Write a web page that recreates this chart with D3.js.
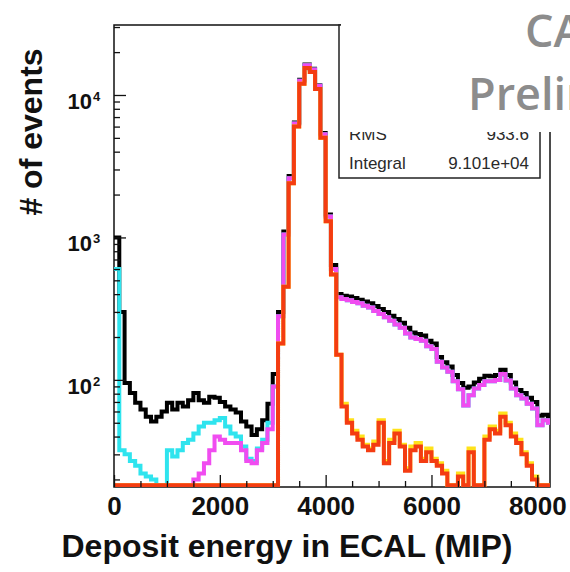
<!DOCTYPE html>
<meta charset="utf-8">
<style>
body { margin: 0; background: #fff; }
svg { display: block; }
text { font-family: "Liberation Sans", Arial, Helvetica, sans-serif; }
.lbl { font-weight: bold; fill: #111; }
.stat { font-size: 17px; fill: #2a2a2a; }
.calice { font-family: "Open Sans", sans-serif; font-weight: 600; font-size: 45px; fill: #8c8c8c; }
</style>
<svg width="570" height="572"></svg>
<script src="https://cdn.jsdelivr.net/npm/d3@7"></script>
<script>
// bin width 100 MIP, bin i covers [i*100, (i+1)*100)
var binWidth = 100

var black = [1000,300,95,81,69,62,55,51,55,60,69,62,69,65,72,81,72,69,76,75,
  70,65,62,59,51,47,41,45,52,68,110,300,1100,2700,6400,12800,16400,15300,11700,5400,
  1450,640,400,390,385,375,365,355,345,330,315,300,282,268,252,232,215,210,205,188,
  180,145,133,124,108,95,88,90,96,102,107,106,108,118,108,96,85,81,75,70,
  56,57,55]

var cyan = [600,32,30,27,25,22,21,20,15,15,32,29,32,36,38,42,47,50,50,52,
  54,47,42,40,34,28,27,33,38,50,90,280,1050,2600,6300,12600,16200,15100,11600,5300,
  1400,600,380,370,362,352,345,332,322,305,290,275,260,245,232,212,198,194,188,172,
  165,134,122,114,98,86,66,78,87,92,98,98,100,110,99,87,78,74,68,63,
  48,52,50]

var magenta = [0,0,0,0,0,0,0,0,0,0,0,0,0,0,18,20,22,26,32,40,
  38,36,36,36,32,27,26,32,36,45,90,280,1050,2600,6300,12600,16200,15100,11600,5300,
  1400,600,380,370,362,352,345,332,322,305,290,275,260,245,232,212,198,194,188,172,
  165,134,122,114,98,86,66,78,87,92,98,98,100,110,99,87,78,74,68,63,
  48,52,50]

var yellow = [0,0,0,0,0,0,0,0,0,0,0,0,0,0,0,0,0,0,0,0,
  0,0,0,0,0,0,0,0,0,0,0,180,450,2400,6000,12000,15500,14500,11000,5000,
  1300,550,150,68,52,44,40,35,33,37,52,27,38,44,35,24,34,36,28,33,
  28,26,23,0,0,22,0,33,0,0,40,47,44,58,50,42,38,31,26,21,
  0,0,0]

var red = [0,0,0,0,0,0,0,0,0,0,0,0,0,0,0,0,0,0,0,0,
  0,0,0,0,0,0,0,0,0,0,0,180,450,2400,6000,12000,15500,14500,11000,5000,
  1300,550,150,65,50,42,38,34,32,35,50,26,36,42,34,23,32,34,27,31,
  27,25,22,0,0,21,0,31,0,0,38,45,42,55,48,40,36,30,25,20,
  0,0,0]

var series = [
  {name: "all", values: black, color: "#000000"},
  {name: "cut1", values: cyan, color: "#2fe4ee"},
  {name: "cut2", values: magenta, color: "#f04cf0"},
  {name: "cut3", values: yellow, color: "#ffe21a"},
  {name: "cut4", values: red, color: "#f43c12"}
]

var xMajor = [0, 2000, 4000, 6000, 8000]
var yMajor = [100, 1000, 10000]
var yMajorExp = ["2", "3", "4"]

var statsRows = [["RMS", "933.6"], ["Integral", "9.101e+04"]]

var fL = 114, fR = 550, fT = 25, fB = 487, yMin = 17.7

var svg = d3.select("svg")

var x = d3.scaleLinear().domain([0, 8240]).range([fL, fR])
var y = d3.scaleLog().domain([yMin, 31000]).range([fB, fT])

svg.append("clipPath").attr("id", "frameclip")
  .append("rect")
    .attr("x", fL).attr("y", fT)
    .attr("width", fR - fL).attr("height", fB - fT)

// frame first, the histograms sit on top of it (ROOT style)
svg.append("rect")
  .attr("x", fL).attr("y", fT)
  .attr("width", fR - fL).attr("height", fB - fT)
  .attr("fill", "none").attr("stroke", "#111").attr("stroke-width", 1.5)

// histograms
var line = d3.line()
  .x(function(d) { return x(d[0]) })
  .y(function(d) { return Math.min(y(Math.max(d[1], yMin)), fB - 1.8) })
  .curve(d3.curveStepAfter)

var hist = svg.append("g").attr("clip-path", "url(#frameclip)")
series.forEach(function(s) {
  var pts = s.values.map(function(v, i) { return [i * binWidth, v] })
  pts.push([s.values.length * binWidth, s.values[s.values.length - 1]])
  hist.append("path")
    .datum(pts)
    .attr("d", line)
    .attr("fill", "none")
    .attr("stroke", s.color)
    .attr("stroke-width", 4)
    .attr("stroke-linejoin", "miter")
})

// x ticks
var xMinor = d3.range(0, 8001, 500).filter(function(v) { return v % 2000 })
svg.append("g")
  .attr("transform", "translate(0," + fB + ")")
  .call(d3.axisBottom(x).tickValues(xMinor).tickSizeInner(-6).tickSizeOuter(0).tickFormat(""))
  .call(function(g) { g.select(".domain").remove() })
var xAxis = svg.append("g")
  .attr("transform", "translate(0," + fB + ")")
  .call(d3.axisBottom(x).tickValues(xMajor).tickSizeInner(-12).tickSizeOuter(0).tickPadding(10).tickFormat(d3.format("d")))
  .call(function(g) { g.select(".domain").remove() })
xAxis.selectAll("text").attr("class", "lbl").style("font-size", "26px")
  .attr("font-family", null)

// y ticks
var yMinor = []
;[10, 100, 1000, 10000].forEach(function(d) {
  for (var k = 2; k <= 9; k++) if (d * k > yMin && d * k < 31000) yMinor.push(d * k)
})
svg.append("g")
  .attr("transform", "translate(" + fL + ",0)")
  .call(d3.axisLeft(y).tickValues(yMinor).tickSizeInner(-6).tickSizeOuter(0).tickFormat(""))
  .call(function(g) { g.select(".domain").remove() })
svg.append("g")
  .attr("transform", "translate(" + fL + ",0)")
  .call(d3.axisLeft(y).tickValues(yMajor).tickSizeInner(-12).tickSizeOuter(0).tickFormat(""))
  .call(function(g) { g.select(".domain").remove() })
svg.selectAll(".tick line").attr("stroke", "#111").attr("stroke-width", 1.3)

yMajor.forEach(function(v, i) {
  svg.append("text").attr("class", "lbl")
    .attr("x", 92).attr("y", y(v) + 14)
    .attr("text-anchor", "end").style("font-size", "22px")
    .text("10")
  svg.append("text").attr("class", "lbl")
    .attr("x", 93).attr("y", y(v) + 6)
    .style("font-size", "13px")
    .text(yMajorExp[i])
})

// axis titles
svg.append("text").attr("class", "lbl")
  .attr("x", 287).attr("y", 557)
  .attr("text-anchor", "middle").style("font-size", "32px")
  .text("Deposit energy in ECAL (MIP)")
svg.append("text").attr("class", "lbl")
  .attr("transform", "translate(42,132) rotate(-90)")
  .attr("text-anchor", "middle").style("font-size", "32px")
  .text("# of events")

// stats box
svg.append("rect")
  .attr("x", 339).attr("y", fT).attr("width", 201).attr("height", 153)
  .attr("fill", "#fff").attr("stroke", "#222").attr("stroke-width", 1.5)
statsRows.forEach(function(r, i) {
  var yy = 140 + i * 29
  svg.append("text").attr("class", "stat").attr("x", 349).attr("y", yy).text(r[0])
  svg.append("text").attr("class", "stat").attr("x", 529).attr("y", yy)
    .attr("text-anchor", "end").text(r[1])
})

// label area pasted on top
svg.append("rect")
  .attr("x", 341).attr("y", 0).attr("width", 229).attr("height", 132)
  .attr("fill", "#fff")
svg.append("text").attr("class", "calice").attr("x", 525).attr("y", 47).text("CALICE")
svg.append("text").attr("class", "calice").attr("x", 468).attr("y", 110).text("Preliminary")
</script>
